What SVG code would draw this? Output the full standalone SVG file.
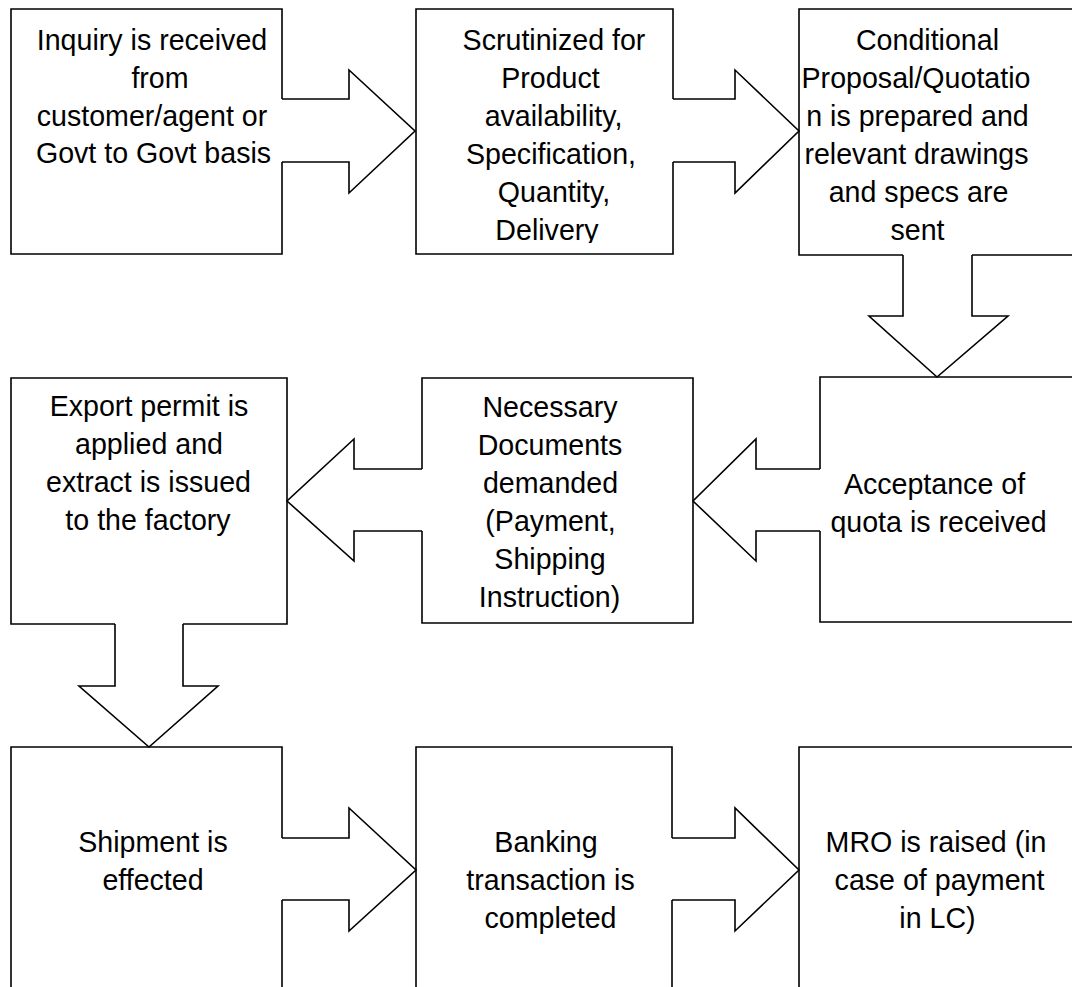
<svg xmlns="http://www.w3.org/2000/svg" width="1072" height="987" viewBox="0 0 1072 987">
<style>
.b{fill:none;stroke:#000;stroke-width:1.6;stroke-linejoin:miter}
.c{fill:none;stroke:#000;stroke-width:1.6;stroke-linejoin:miter}
text{font-family:"Liberation Sans",Arial,sans-serif;font-size:28.6px;fill:#000;text-anchor:middle}
</style>
<defs>
<clipPath id="clip2"><rect x="416" y="9" width="257" height="234"/></clipPath>
</defs>
<rect width="1072" height="987" fill="#fff"/>
<g id="n1">
<path class="b" d="M282,99 V9 H11 V254 H282 V162"/>
<text x="152" y="50">Inquiry is received</text>
<text x="160" y="88">from</text>
<text x="152" y="125.5">customer/agent or</text>
<text x="153.5" y="163">Govt to Govt basis</text>
</g>
<g id="n2">
<path class="b" d="M673,99 V9 H416 V254 H673 V162"/>
<g clip-path="url(#clip2)">
<text x="554" y="50">Scrutinized for</text>
<text x="550.5" y="88">Product</text>
<text x="553.5" y="126">availability,</text>
<text x="551" y="164">Specification,</text>
<text x="554" y="202">Quantity,</text>
<text x="547" y="240">Delivery</text>
</g>
</g>
<g id="n3">
<path class="b" d="M1076,9 H799 V255 H903 M972,255 H1076"/>
<text x="927.5" y="50">Conditional</text>
<text x="916" y="88">Proposal/Quotatio</text>
<text x="917.5" y="126">n is prepared and</text>
<text x="916.5" y="164">relevant drawings</text>
<text x="918.5" y="202">and specs are</text>
<text x="917.5" y="240">sent</text>
</g>
<g id="n4">
<path class="b" d="M1076,377 H820 V469 M820,531 V622 H1076"/>
<text x="934.5" y="494">Acceptance of</text>
<text x="938.5" y="532">quota is received</text>
</g>
<g id="n5">
<path class="b" d="M422,469 V378 H693 V623 H422 V531"/>
<text x="550" y="417">Necessary</text>
<text x="550" y="455">Documents</text>
<text x="550.5" y="493">demanded</text>
<text x="550.5" y="531">(Payment,</text>
<text x="550" y="569">Shipping</text>
<text x="549.5" y="607">Instruction)</text>
</g>
<g id="n6">
<path class="b" d="M115,624 H11 V378 H287 V624 H183"/>
<text x="149" y="416">Export permit is</text>
<text x="149" y="454">applied and</text>
<text x="148.5" y="492">extract is issued</text>
<text x="148" y="530">to the factory</text>
</g>
<g id="n7">
<path class="b" d="M282,838 V747 H11 V995 M282,900 V995"/>
<text x="153" y="852">Shipment is</text>
<text x="153" y="890">effected</text>
</g>
<g id="n8">
<path class="b" d="M672,838 V747 H416 V995 M672,900 V995"/>
<text x="546" y="852">Banking</text>
<text x="550.5" y="890">transaction is</text>
<text x="550.5" y="928">completed</text>
</g>
<g id="n9">
<path class="b" d="M1076,747 H799 V995"/>
<text x="936" y="852">MRO is raised (in</text>
<text x="939.5" y="890">case of payment</text>
<text x="937.5" y="928">in LC)</text>
</g>
<g id="connectors">
<polyline class="c" points="282,99 349,99 349,70 415,131 349,193 349,162 282,162"/>
<polyline class="c" points="673,99 735,99 735,70 799,131 735,193 735,162 673,162"/>
<polyline class="c" points="903,255 903,316 869,316 937,377 1008,316 972,316 972,255"/>
<polyline class="c" points="820,469 756,469 756,439 693,501 756,561 756,531 820,531"/>
<polyline class="c" points="422,469 354,469 354,439 287,501 354,561 354,531 422,531"/>
<polyline class="c" points="115,624 115,686 79,686 149,747 218,686 183,686 183,624"/>
<polyline class="c" points="282,838 349,838 349,808 416,870 349,931 349,900 282,900"/>
<polyline class="c" points="672,838 735,838 735,808 799,870 735,931 735,900 672,900"/>
</g>
</svg>
